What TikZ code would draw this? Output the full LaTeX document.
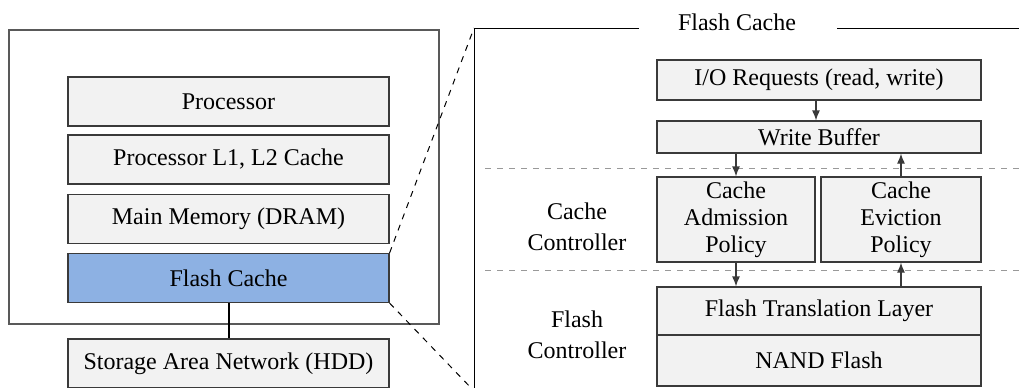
\documentclass[tikz,border=0pt]{standalone}
\usepackage{fontspec}
\setmainfont{LiberationSerif}[Extension=.ttf, UprightFont=*-Regular, BoldFont=*-Bold]
\usetikzlibrary{arrows.meta}
\definecolor{boxgray}{HTML}{F2F2F2}
\definecolor{edgegray}{HTML}{3A3A3A}
\definecolor{flashblue}{HTML}{8DB1E3}
\begin{document}
\begin{tikzpicture}[
  x=0.5pt, y=-0.5pt,
  box/.style={rectangle, draw=edgegray, line width=0.6pt, fill=boxgray, inner sep=0pt, align=center, font=\fontsize{12}{13.5}\selectfont},
  lbl/.style={align=center, font=\fontsize{12}{15.5}\selectfont},
  arr/.style={-{Latex[length=5pt, width=4pt]}, line width=0.6pt, edgegray},
  sep/.style={dashed, gray!80, line width=0.5pt},
  zoom/.style={dashed, black, line width=0.5pt},
]
  \useasboundingbox (0,0) rectangle (1019,387);

  % Host side: outer system box and memory hierarchy
  \draw[gray!70!black, line width=0.8pt] (9,30) rectangle (439,324);
  \node[box, minimum width=160.5pt, minimum height=24.5pt] (proc) at (228.5,101.5) {Processor};
  \node[box, minimum width=160.5pt, minimum height=24.5pt] (l12) at (228.5,159.5) {Processor L1, L2 Cache};
  \node[box, minimum width=160.5pt, minimum height=24.5pt] (dram) at (228.5,219) {Main Memory (DRAM)};
  \node[box, fill=flashblue, minimum width=160.5pt, minimum height=24.5pt] (fc) at (228.5,278) {Flash Cache};
  \node[box, minimum width=160.5pt, minimum height=24.5pt] (san) at (228.5,363.5) {Storage Area Network (HDD)};
  \draw[black, line width=1pt] (fc.south) -- (san.north);

  % Zoomed-in frame with title
  \node[font=\fontsize{12}{14}\selectfont, anchor=base] (title) at (737,30) {Flash Cache};
  \coordinate (ftl-corner) at (474,28);
  \coordinate (fbl-corner) at (474,391);
  \draw[black, line width=0.5pt] (639,28) -- (ftl-corner) -- (fbl-corner);
  \draw[black, line width=0.5pt] (837,28) -- (1019,28);
  \draw[zoom] (fc.north east) -- (ftl-corner);
  \draw[zoom] (fc.south east) -- (fbl-corner);

  % Flash cache internals
  \node[box, minimum width=162pt, minimum height=20pt] (io) at (819,80) {I/O Requests (read, write)};
  \node[box, minimum width=162pt, minimum height=16pt] (wb) at (819,137) {Write Buffer};
  \node[box, minimum width=79pt, minimum height=42.5pt] (adm) at (736,219.5) {Cache\\Admission\\Policy};
  \node[box, minimum width=80pt, minimum height=42.5pt] (evi) at (901,219.5) {Cache\\Eviction\\Policy};
  \node[box, minimum width=162pt, minimum height=24pt] (ftl) at (819,311) {Flash Translation Layer};
  \node[box, minimum width=162pt, minimum height=25.5pt] (nand) at (819,360.5) {NAND Flash};

  % Layer separators and labels
  \draw[sep] (485,168) -- (1019,168);
  \draw[sep] (485,270) -- (1019,270);
  \node[lbl] (cctl) at (577,226.5) {Cache\\Controller};
  \node[lbl] (fctl) at (577,335) {Flash\\Controller};

  % Data flow
  \draw[arr] ([xshift=-1.5pt]io.south) -- ([xshift=-1.5pt]wb.north);
  \draw[arr] (wb.south -| adm) -- (adm.north);
  \draw[arr] (evi.north) -- (wb.south -| evi);
  \draw[arr] (adm.south) -- (ftl.north -| adm);
  \draw[arr] (ftl.north -| evi) -- (evi.south);
\end{tikzpicture}
\end{document}
